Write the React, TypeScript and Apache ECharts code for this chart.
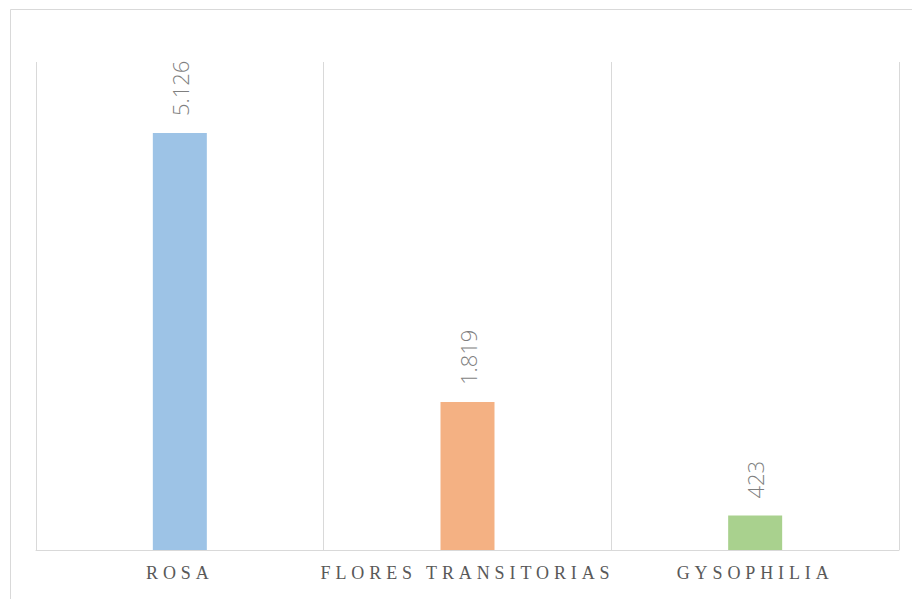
import React, { useEffect, useRef } from "react";
import * as echarts from "echarts";

const categories = ["ROSA", "FLORES TRANSITORIAS", "GYSOPHILIA"];
const values = [5126, 1819, 423];
const barColors = ["#9dc3e6", "#f4b183", "#a9d18e"];
const valueLabels = ["5.126", "1.819", "423"];

export default function App() {
  const ref = useRef<HTMLDivElement>(null);

  useEffect(() => {
    if (!ref.current) return;
    const chart = echarts.init(ref.current, null, { renderer: "svg" });
    const option: any = {
      animation: false,
      backgroundColor: "#ffffff",
      graphic: [
        {
          type: "rect",
          shape: { x: 10.5, y: 9.5, width: 920, height: 610 },
          style: { fill: "none", stroke: "#d9d9d9", lineWidth: 1 },
          silent: true,
        },
      ],
      grid: { left: 36, right: 13, top: 62, bottom: 49 },
      xAxis: {
        type: "category",
        data: categories,
        axisLine: { show: true, lineStyle: { color: "#d9d9d9", width: 1 } },
        axisTick: { show: false },
        splitLine: { show: true, lineStyle: { color: "#d9d9d9", width: 1 } },
        axisLabel: {
          color: "#595959",
          fontFamily: "Liberation Serif",
          fontSize: 18,
          margin: 14,
          interval: 0,
        },
      },
      yAxis: {
        type: "value",
        min: 0,
        max: 6000,
        show: false,
        splitLine: { show: false },
      },
      series: [
        {
          type: "bar",
          barWidth: 54,
          data: values.map((v, i) => ({ value: v, itemStyle: { color: barColors[i] } })),
          label: {
            show: true,
            position: "top",
            rotate: 90,
            align: "left",
            verticalAlign: "middle",
            distance: 17,
            color: "#7f7f7f",
            fontFamily: "Open Sans",
            fontWeight: 300,
            fontSize: 22,
            formatter: (p: any) => valueLabels[p.dataIndex],
          },
        },
      ],
    };
    chart.setOption(option);

    const applySpacing = () => {
      const dom = ref.current;
      if (!dom) return;
      dom.querySelectorAll("text").forEach((t) => {
        if (categories.includes((t.textContent || "").trim())) {
          t.setAttribute("letter-spacing", "4.9");
        }
      });
    };
    applySpacing();
    chart.on("finished", applySpacing);
    const timer = setTimeout(applySpacing, 50);

    return () => {
      clearTimeout(timer);
      chart.dispose();
    };
  }, []);

  return (
    <div
      ref={ref}
      style={{ position: "fixed", left: 0, top: 0, width: 912, height: 599 }}
    />
  );
}
